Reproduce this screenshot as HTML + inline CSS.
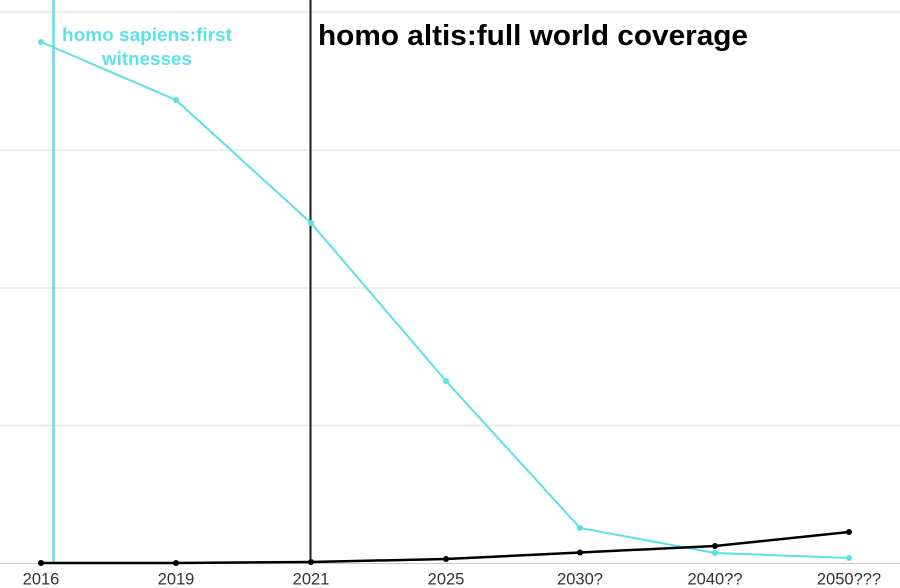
<!DOCTYPE html>
<html><head><meta charset="utf-8"><style>
html,body{margin:0;padding:0;background:#fff;}
svg{display:block;}
</style></head><body>
<svg width="900" height="588" viewBox="0 0 900 588" xmlns="http://www.w3.org/2000/svg">
<rect width="900" height="588" fill="#fff"/>
<g stroke="#e8e8e8" stroke-width="1.5">
<line x1="0" y1="12" x2="900" y2="12"/>
<line x1="0" y1="150" x2="900" y2="150"/>
<line x1="0" y1="288" x2="900" y2="288"/>
<line x1="0" y1="425.5" x2="900" y2="425.5"/>
</g>
<line x1="0" y1="563.5" x2="900" y2="563.5" stroke="#c8c8c8" stroke-width="1"/>
<line x1="53.5" y1="0" x2="53.5" y2="563" stroke="#5ce1e6" stroke-width="2.5"/>
<line x1="310.5" y1="0" x2="310.5" y2="563" stroke="#1a1a1a" stroke-width="2"/>
<polyline fill="none" stroke="#5ce1e6" stroke-width="2" points="41,42 176,100 311,223 446,381 580,528 715,553 849,558"/>
<g fill="#5ce1e6">
<circle cx="41" cy="42" r="3"/><circle cx="176" cy="100" r="3"/><circle cx="311" cy="223" r="3"/><circle cx="446" cy="381" r="3"/><circle cx="580" cy="528" r="3"/><circle cx="715" cy="553" r="3"/><circle cx="849" cy="558" r="3"/>
</g>
<polyline fill="none" stroke="#000" stroke-width="2.5" points="41,563 176,563 311,562 446,559 580,552.5 715,546 849,532"/>
<g fill="#000">
<circle cx="41" cy="563" r="3"/><circle cx="176" cy="563" r="3"/><circle cx="311" cy="562" r="3"/><circle cx="446" cy="559" r="3"/><circle cx="580" cy="552.5" r="3"/><circle cx="715" cy="546" r="3"/><circle cx="849" cy="532" r="3"/>
</g>
<g font-family="Liberation Sans, sans-serif" font-size="16.5" fill="#333" text-anchor="middle">
<text x="41" y="584.5">2016</text>
<text x="176" y="584.5">2019</text>
<text x="311" y="584.5">2021</text>
<text x="446" y="584.5">2025</text>
<text x="580" y="584.5">2030?</text>
<text x="715" y="584.5">2040??</text>
<text x="849" y="584.5">2050???</text>
</g>
<text x="318" y="45" font-family="Liberation Sans, sans-serif" font-weight="bold" font-size="29" fill="#000" textLength="430" lengthAdjust="spacingAndGlyphs">homo altis:full world coverage</text>
<g font-family="Liberation Sans, sans-serif" font-weight="bold" font-size="18" fill="#5ce1e6">
<text x="62" y="41" textLength="170" lengthAdjust="spacingAndGlyphs">homo sapiens:first</text>
<text x="102" y="65" textLength="90" lengthAdjust="spacingAndGlyphs">witnesses</text>
</g>
</svg>
</body></html>
